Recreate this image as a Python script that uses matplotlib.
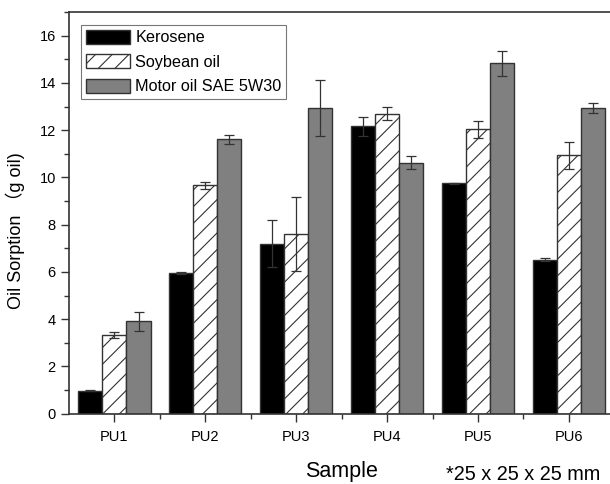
import numpy as np
import matplotlib
matplotlib.use("Agg")
from matplotlib import pyplot as plt
from matplotlib.ticker import MultipleLocator, FixedLocator

plt.rcParams['font.family'] = ['Liberation Sans', 'DejaVu Sans']
plt.rcParams['hatch.linewidth'] = 0.8

samples = ["PU1", "PU2", "PU3", "PU4", "PU5", "PU6"]
series = ["Kerosene", "Soybean oil", "Motor oil SAE 5W30"]
kerosene = [0.97, 5.97, 7.20, 12.16, 9.75, 6.51]
kerosene_err = [0.02, 0.04, 1.00, 0.41, 0.03, 0.06]
soybean = [3.33, 9.67, 7.61, 12.70, 12.03, 10.93]
soybean_err = [0.13, 0.14, 1.55, 0.27, 0.37, 0.57]
motor = [3.91, 11.61, 12.94, 10.62, 14.83, 12.94]
motor_err = [0.40, 0.20, 1.19, 0.28, 0.54, 0.22]

fig = plt.figure(figsize=(6.1, 4.84), dpi=100)
ax = fig.add_axes([0.1131, 0.1452, 0.894, 0.830])

x = np.arange(1, len(samples) + 1)
w = 0.265
edge = "#333333"
styles = [
    dict(color="black", hatch=None),
    dict(color="white", hatch="//"),
    dict(color="#808080", hatch=None),
]
vals = [kerosene, soybean, motor]
errs = [kerosene_err, soybean_err, motor_err]

for i, (name, v, e, st) in enumerate(zip(series, vals, errs, styles)):
    ax.bar(x + (i - 1) * w, v, width=w, color=st["color"], hatch=st["hatch"],
           edgecolor=edge, linewidth=1.0, label=name, zorder=2)
    ax.errorbar(x + (i - 1) * w, v, yerr=e, fmt="none", ecolor="#333333",
                elinewidth=0.9, capsize=3.5, capthick=0.9, zorder=3)

ax.set_xlim(0.5, 6.5)
ax.set_ylim(0, 17)
ax.set_xticks(x)
ax.set_xticklabels(samples)
ax.xaxis.set_minor_locator(FixedLocator(np.arange(1.5, 6.5, 1)))
ax.yaxis.set_major_locator(MultipleLocator(2))
ax.yaxis.set_minor_locator(MultipleLocator(1))
ax.tick_params(axis="both", which="major", direction="out", length=6, width=1,
               labelsize=10.5, color="#333333")
ax.tick_params(axis="x", which="major", pad=6)
ax.tick_params(axis="both", which="minor", direction="out", length=3.5, width=1, color="#333333")
for s in ["left", "bottom", "top", "right"]:
    ax.spines[s].set_linewidth(1.2)
    ax.spines[s].set_color("#333333")

ax.set_ylabel("Oil Sorption （g oil)", fontsize=13,
              family=['Liberation Sans', 'Noto Sans CJK SC'])
ax.yaxis.set_label_coords(-0.08, 0.455)
ax.set_xlabel("Sample", fontsize=15.5, labelpad=12)
fig.text(0.731, 0.019, "*25 x 25 x 25 mm", fontsize=14.3, ha="left", va="center")

leg = ax.legend(loc="upper left", bbox_to_anchor=(0.0215, 0.968), fontsize=11.7,
                frameon=True, fancybox=False, handlelength=2.75, handleheight=0.95,
                handletextpad=0.3, borderpad=0.3, labelspacing=0.55, borderaxespad=0)
leg.get_frame().set_edgecolor("#555555")
leg.get_frame().set_linewidth(0.8)

fig.savefig("out.png", dpi=100)
